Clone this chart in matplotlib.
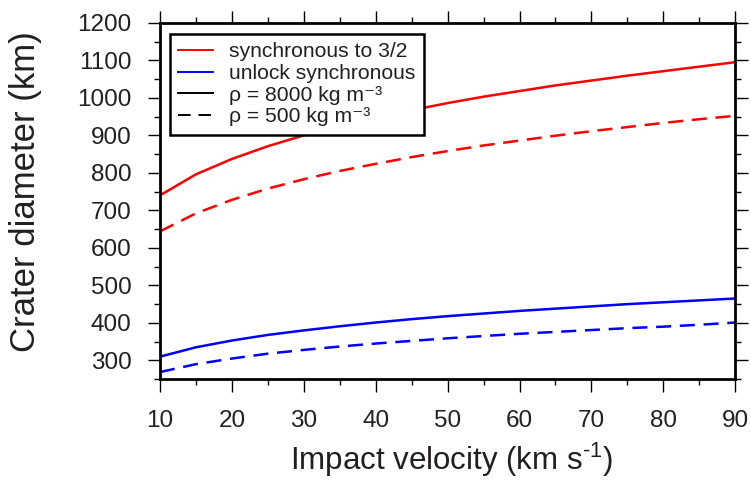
import numpy as np
import matplotlib
matplotlib.use("Agg")
import matplotlib.pyplot as plt
from matplotlib.ticker import MultipleLocator

plt.rcParams['font.family'] = ['Liberation Sans', 'DejaVu Sans']
plt.rcParams['mathtext.fontset'] = 'custom'
plt.rcParams['mathtext.rm'] = 'Liberation Sans'
plt.rcParams['mathtext.it'] = 'Liberation Sans'
plt.rcParams['mathtext.default'] = 'regular'

TXT = '#231f20'

# impact velocity (km/s)
velocity = [10, 15, 20, 25, 30, 35, 40, 45, 50, 55, 60, 65, 70, 75, 80, 85, 90]

# crater diameter (km)
sync32_dense = [740, 796, 837, 871, 900, 925, 947, 967, 986, 1003, 1018, 1033, 1046, 1059, 1071, 1083, 1095]
sync32_light = [644, 692, 728, 758, 783, 805, 824, 842, 858, 873, 886, 899, 911, 922, 933, 943, 952]
unlock_dense = [310, 335, 353, 368, 380, 391, 401, 410, 418, 425, 432, 438, 444, 450, 455, 460, 465]
unlock_light = [269, 290, 305, 318, 328, 337, 345, 352, 359, 365, 371, 376, 381, 386, 390, 395, 401]

fig = plt.figure(figsize=(7.51, 4.95), dpi=100)
ax = fig.add_axes([0.213, 0.234, 0.766, 0.720])

lw = 1.8
dash = (0, (6, 3.5))
ax.plot(velocity, sync32_dense, color='#ff0000', lw=lw)
ax.plot(velocity, sync32_light, color='#ff0000', lw=lw, linestyle=dash)
ax.plot(velocity, unlock_dense, color='#0000ff', lw=lw)
ax.plot(velocity, unlock_light, color='#0000ff', lw=lw, linestyle=dash)

ax.set_xlim(10, 90)
ax.set_ylim(250, 1200)
ax.xaxis.set_major_locator(MultipleLocator(10))
ax.xaxis.set_minor_locator(MultipleLocator(5))
ax.yaxis.set_minor_locator(MultipleLocator(50))
ax.set_yticks(np.arange(300, 1201, 100))

for s in ax.spines.values():
    s.set_linewidth(2.0)
    s.set_color('black')

ax.tick_params(which='both', direction='out', top=True, right=True,
               width=1.0, color='black', labelsize=17.5, labelcolor=TXT)
ax.tick_params(which='major', length=9, pad=11.5)
ax.tick_params(axis='x', which='major', pad=13)
ax.tick_params(which='minor', length=4.5)

ax.set_xlabel('Impact velocity (km s$^{\\text{-}1}$)', fontsize=22.5, color=TXT)
ax.set_ylabel('Crater diameter (km)', fontsize=25, color=TXT)
ax.xaxis.set_label_coords(0.506, -0.172)
ax.yaxis.set_label_coords(-0.205, 0.525)

# legend
h = [
    plt.Line2D([], [], color='#ff0000', lw=1.4),
    plt.Line2D([], [], color='#0000ff', lw=1.4),
    plt.Line2D([], [], color='black', lw=1.4),
    plt.Line2D([], [], color='black', lw=1.4, linestyle=(0, (6.5, 4))),
]
labels = ['synchronous to 3/2', 'unlock synchronous',
          '\u03c1 = 8000 kg m\u207b\u00b3', '\u03c1 = 500 kg m\u207b\u00b3']
leg = ax.legend(h, labels, loc='upper left', bbox_to_anchor=(0.0174, 0.969),
                fontsize=15.2, frameon=True, fancybox=False, framealpha=1,
                edgecolor='black', handlelength=1.65, handletextpad=0.75,
                labelspacing=0.125, borderpad=0.4, borderaxespad=0)
leg.get_frame().set_linewidth(1.8)
for t in leg.get_texts():
    t.set_color(TXT)

fig.savefig('out.png', dpi=100)
